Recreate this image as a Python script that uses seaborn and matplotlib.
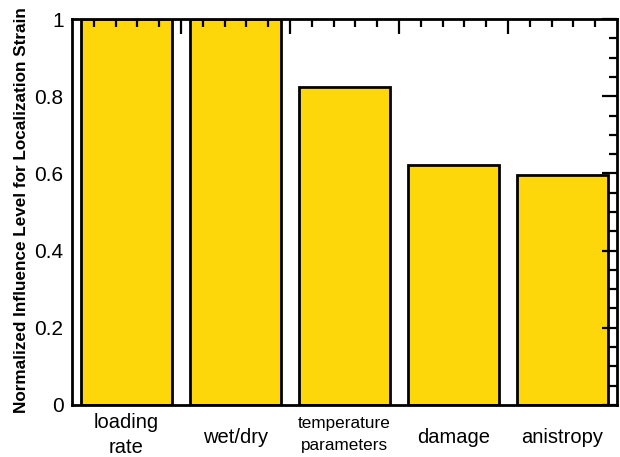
import matplotlib
matplotlib.use("Agg")
import matplotlib.pyplot as plt
import seaborn as sns
import pandas as pd
from matplotlib.ticker import FixedLocator, MultipleLocator

categories = ["loading\nrate", "wet/dry", "temperature\nparameters", "damage", "anistropy"]
values = [1.0, 1.0, 0.825, 0.623, 0.595]
y_ticks = [0, 0.2, 0.4, 0.6, 0.8, 1.0]
y_tick_labels = ["0", "0.2", "0.4", "0.6", "0.8", "1"]

sns.set_theme(style="white")
plt.rcParams['font.family'] = ['Liberation Sans', 'DejaVu Sans']
plt.rcParams['text.color'] = 'black'
plt.rcParams['axes.labelcolor'] = 'black'
plt.rcParams['xtick.color'] = 'black'
plt.rcParams['ytick.color'] = 'black'

df = pd.DataFrame({"cat": categories, "val": values})

fig = plt.figure(figsize=(6.2, 4.57), dpi=100)
ax = fig.add_axes([0.116, 0.114, 0.879, 0.844])
sns.barplot(data=df, x="cat", y="val", color="#FDD70A", saturation=1,
            edgecolor="black", linewidth=2, width=0.83, ax=ax)
ax.set_axisbelow(False)

ax.set_xlim(-0.5, 4.5)
ax.set_ylim(0, 1)
ax.set_xlabel("")
ax.set_ylabel("Normalized Influence Level for Localization Strain",
              fontsize=12.3, fontweight="bold")
ax.yaxis.set_label_coords(-0.078, 0.505)

# ticks
ax.xaxis.set_major_locator(FixedLocator([0.5, 1.5, 2.5, 3.5]))
ax.xaxis.set_minor_locator(FixedLocator([i - 0.5 + 0.2 * k for i in range(5) for k in range(1, 5)]))
ax.set_xticklabels([])
ax.set_yticks(y_ticks)
ax.set_yticklabels(y_tick_labels, fontsize=15)
ax.yaxis.set_minor_locator(MultipleLocator(0.05))

ax.tick_params(which="both", direction="in", top=True, right=True, color="black", width=1.6)
ax.tick_params(which="major", length=11)
ax.tick_params(which="minor", length=6)
ax.tick_params(axis="y", which="major", pad=6)

for s in ax.spines.values():
    s.set_color("black")
    s.set_linewidth(2)

# category labels, one text per line (baselines in axes fraction)
ax_h_px = 0.844 * 457
def frac(px_below):
    return -px_below / ax_h_px

for i, c in enumerate(categories):
    lines = c.split("\n")
    small = c.startswith("temperature")
    fs = 12.3 if small else 14.5
    if len(lines) == 1:
        bases = [38]
    elif small:
        bases = [23, 45]
    else:
        bases = [23, 48]
    for line, b in zip(lines, bases):
        ax.text(i, frac(b), line, ha="center", va="baseline", fontsize=fs,
                transform=ax.get_xaxis_transform())

fig.savefig("out.png", dpi=100)
